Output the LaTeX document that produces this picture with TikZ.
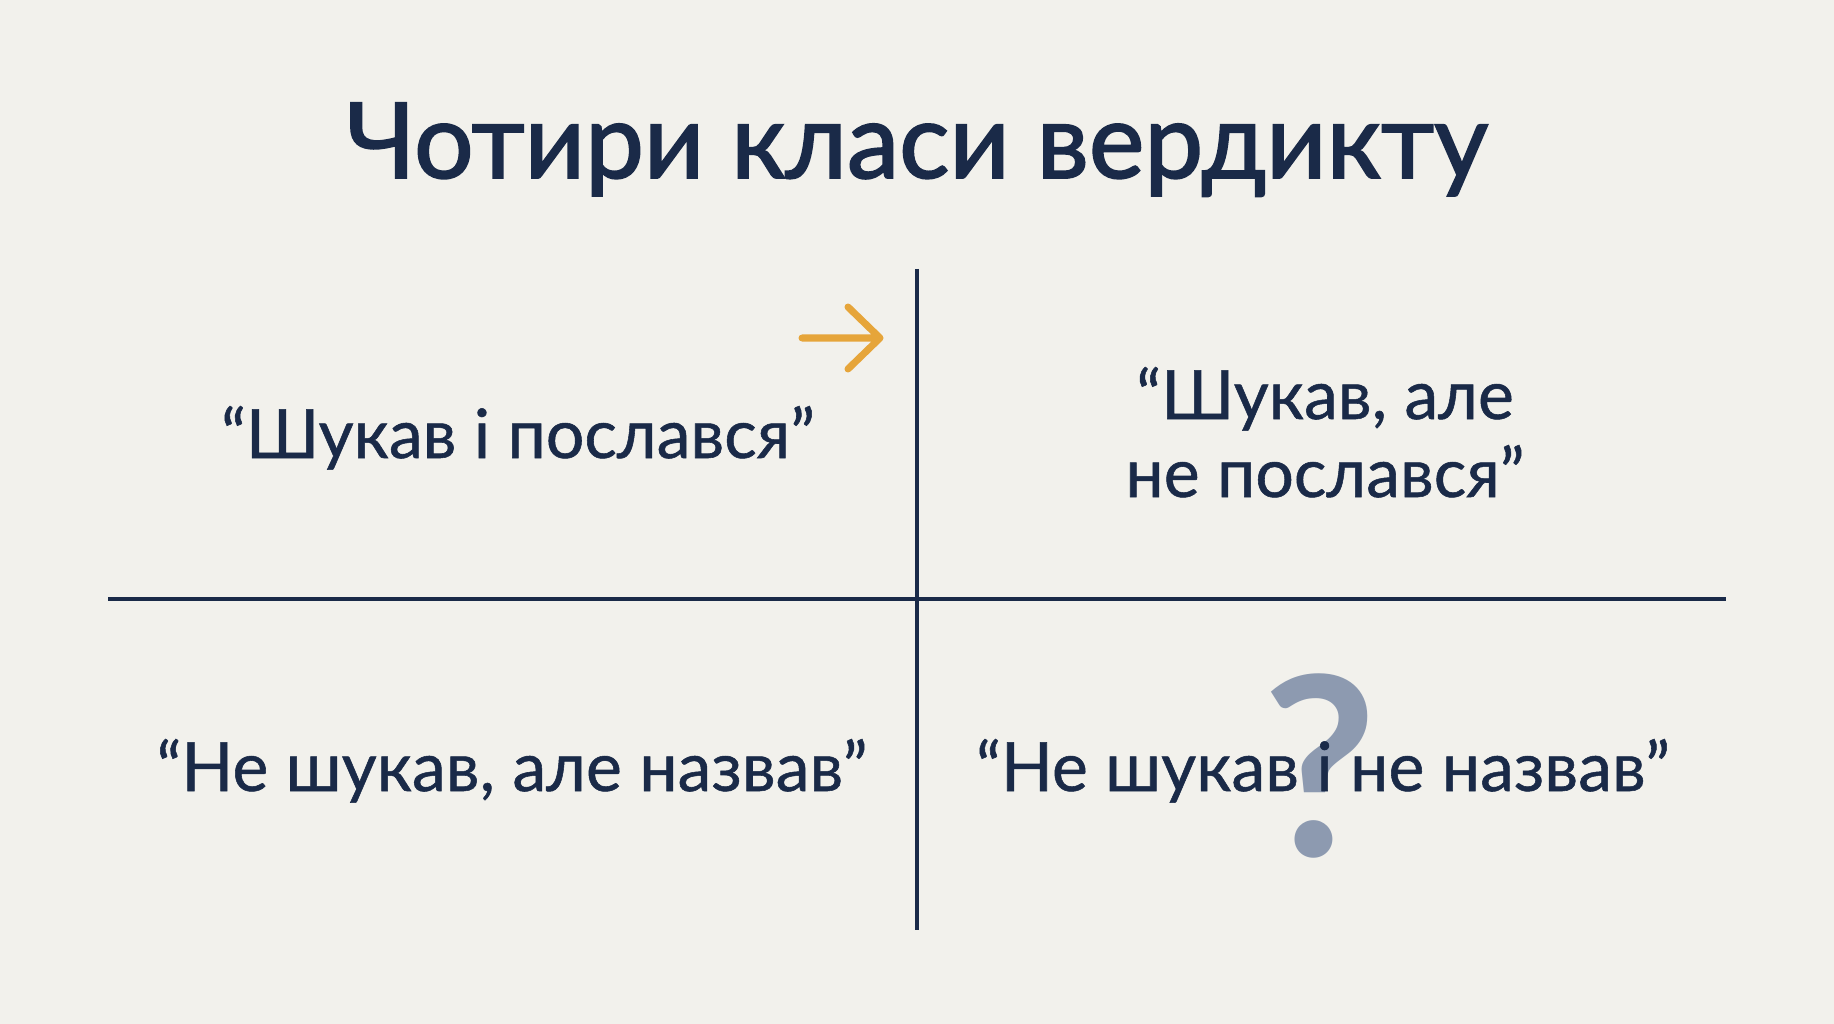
\documentclass[tikz,border=0pt]{standalone}
\usepackage{fontspec}
\setmainfont[FakeBold=0.8]{Lato}
\newfontfamily\titlefont[FakeBold=1.8]{Lato}
\newfontfamily\qfont{Lato}
\definecolor{bgc}{HTML}{F2F1EC}
\definecolor{navy}{HTML}{1A2A48}
\definecolor{amber}{HTML}{E6A53A}
\definecolor{qgrey}{HTML}{8D9AB0}
\tikzset{
  lbl/.style={anchor=base, text=navy, inner sep=0pt, font=\fontsize{68}{80}\selectfont},
  grid/.style={draw=navy, line width=3.2pt},
}
\begin{document}
\begin{tikzpicture}[x=1pt,y=-1pt]
\fill[bgc] (0,0) rectangle (1834,1024);
\useasboundingbox (0,0) rectangle (1834,1024);
% title
\node[anchor=base, text=navy, inner sep=0pt, font=\titlefont\fontsize{105}{120}\selectfont] (title) at (917,178) {Чотири класи вердикту};
% grid
\coordinate (vt) at (917,269);
\coordinate (vb) at (917,930);
\coordinate (hl) at (108,599);
\coordinate (hr) at (1726,599);
\draw[grid] (vt) -- (vb);
\draw[grid] (hl) -- (hr);
% arrow
\coordinate (as) at (802,338);
\coordinate (ae) at (880,338);
\coordinate (au) at (848,307);
\coordinate (ad) at (848,369);
\draw[amber, line width=7pt, line cap=round, line join=round] (as) -- (ae) (au) -- (ae) -- (ad);
% question mark (behind text)
\node[anchor=base, text=qgrey, inner sep=0pt, font=\qfont\bfseries\fontsize{250}{250}\selectfont] (qm) at (1320,856) {?};
% quadrant labels
\node[lbl] (tl) at (518,458) {“Шукав і послався”};
\node[lbl] (tr1) at (1325,419) {“Шукав, але};
\node[lbl] (tr2) at (1325,497) {не послався”};
\node[lbl] (bl) at (512,791) {“Не шукав, але назвав”};
\node[lbl] (br) at (1323,791) {“Не шукав і не назвав”};
\end{tikzpicture}
\end{document}
